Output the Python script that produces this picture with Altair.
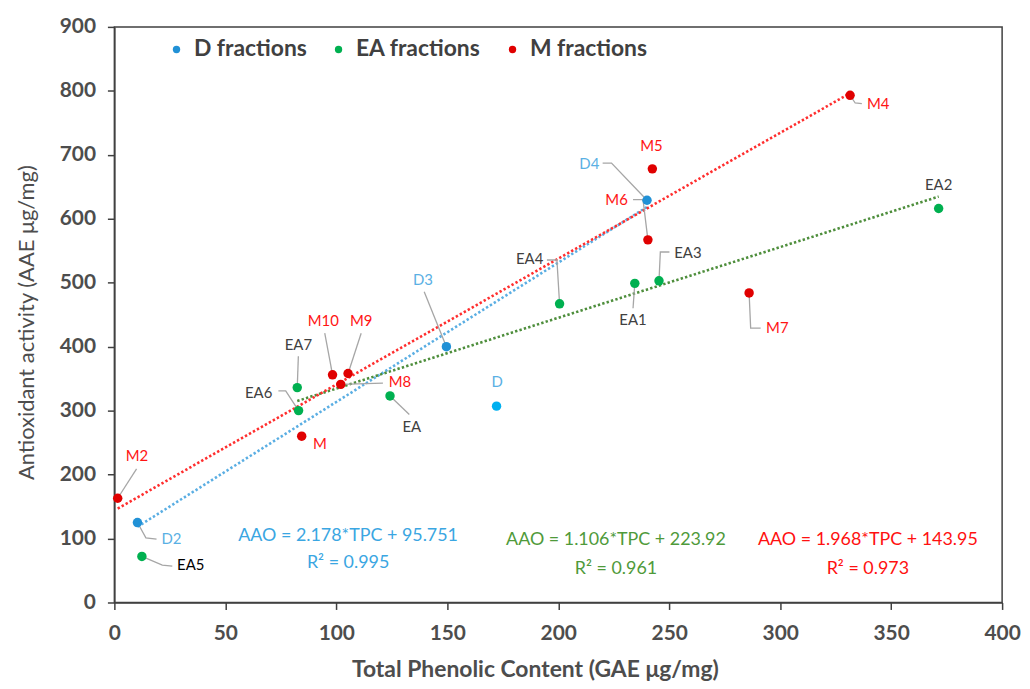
import altair as alt
import pandas as pd

# ---------------- data ----------------
d_names = ["D", "D2", "D3", "D4"]
d_tpc = [172.2, 10.4, 149.6, 240.0]
d_aao = [307, 125, 400, 629]

ea_names = ["EA", "EA1", "EA2", "EA3", "EA4", "EA5", "EA6", "EA7"]
ea_tpc = [124.2, 234.5, 371.4, 245.4, 200.6, 12.4, 83.0, 82.4]
ea_aao = [323, 499, 616, 503, 467, 72, 300, 336]

m_names = ["M", "M2", "M4", "M5", "M6", "M7", "M8", "M9", "M10"]
m_tpc = [84.4, 1.5, 331.5, 242.4, 240.4, 286.0, 102.0, 105.3, 98.3]
m_aao = [260, 163, 793, 678, 567, 484, 341, 358, 356]

series_names = ["D fractions", "EA fractions", "M fractions"]
crude_extracts = ["D"]  # crude D extract drawn in a lighter blue

# fitted trendlines (as printed on the chart)
trend_slope = [2.178, 1.106, 1.968]
trend_intercept = [95.751, 223.92, 143.95]
trend_from = ["D2", "EA7", "M2"]
trend_to = ["D4", "EA2", "M4"]
eq_line1 = ["AAO = 2.178*TPC + 95.751", "AAO = 1.106*TPC + 223.92", "AAO = 1.968*TPC + 143.95"]
eq_line2 = ["R\u00b2 = 0.995", "R\u00b2 = 0.961", "R\u00b2 = 0.973"]

# annotation placement (data units)
label_pos = {
    "D": (172.5, 344), "D2": (25.7, 100), "D3": (139.0, 504), "D4": (214, 685),
    "EA": (134, 274), "EA1": (233.7, 442), "EA2": (371.4, 652), "EA3": (258.4, 547),
    "EA4": (187.1, 537), "EA5": (34.4, 58), "EA6": (65, 327), "EA7": (82.9, 403),
    "M": (92.6, 248), "M2": (10.2, 229), "M4": (344.2, 780), "M5": (242, 713),
    "M6": (226.3, 630), "M7": (298.7, 429), "M8": (128.7, 344), "M9": (111.2, 440),
    "M10": (94.1, 440),
}
leader_anchors = {
    "M10": [(94.8, 421)], "M9": [(111.2, 421)], "EA7": [(82.9, 385)],
    "EA6": [(73.9, 331), (77.2, 331)], "M8": [(121, 343)], "EA": [(132.9, 294)],
    "D3": [(139.6, 486)], "M2": [(10, 209)], "D2": [(19, 99), (14.2, 101)],
    "EA5": [(26.1, 57), (21.6, 58.5)], "M4": [(336.8, 780), (333.8, 781)],
    "D4": [(220, 687), (224, 687)], "M6": [(233.7, 630), (238.2, 630)],
    "EA4": [(194.9, 535.5), (199.4, 535.5)], "EA1": [(233.7, 460)],
    "EA3": [(250.1, 548), (246, 548)], "M7": [(291.2, 429), (286.7, 429)],
}
eq_x = [105.3, 226, 339.5]
eq_y1 = [104, 98, 98]
eq_y2 = [61, 52, 52]

# ---------------- tables ----------------
rows = []
for s, names, xs, ys in zip(series_names, [d_names, ea_names, m_names],
                            [d_tpc, ea_tpc, m_tpc], [d_aao, ea_aao, m_aao]):
    for n, x, y in zip(names, xs, ys):
        grp = "D extract" if n in crude_extracts else s
        lx, ly = label_pos[n]
        rows.append(dict(name=n, tpc=x, aao=y, series=s, group=grp, lx=lx, ly=ly))
pts = pd.DataFrame(rows)
lookup = {r["name"]: (r["tpc"], r["aao"]) for r in rows}

trend_rows = []
for s, a, b, f, t in zip(series_names, trend_slope, trend_intercept, trend_from, trend_to):
    for n in (f, t):
        trend_rows.append(dict(series=s, slope=a, intercept=b, tpc=lookup[n][0]))
trend = pd.DataFrame(trend_rows)

lead_rows = []
for n, anchors in leader_anchors.items():
    seq = anchors + [lookup[n]]
    for i, (x, y) in enumerate(seq):
        lead_rows.append(dict(name=n, ord=i, tpc=x, aao=y))
lead = pd.DataFrame(lead_rows)

eq_rows = []
for s, l1, l2, x, y1, y2 in zip(series_names, eq_line1, eq_line2, eq_x, eq_y1, eq_y2):
    eq_rows.append(dict(series=s, txt=l1, tpc=x, aao=y1))
    eq_rows.append(dict(series=s, txt=l2, tpc=x, aao=y2))
eqs = pd.DataFrame(eq_rows)

# ---------------- styling ----------------
FONT = "Lato"
AX = "#404040"
pt_colors = ["#2191D6", "#00B050", "#E00000", "#00B0F0"]
line_colors = ["#5AAEE3", "#4E8E3C", "#FF2E2E"]
label_colors = {"D fractions": "#5AB0E4", "EA fractions": "#404040", "M fractions": "#FF1414"}
eq_colors = {"D fractions": "#3AA6E2", "EA fractions": "#4F9A3A", "M fractions": "#FF1010"}

xscale = alt.Scale(domain=[0, 400], nice=False, zero=False)
yscale = alt.Scale(domain=[0, 900], nice=False)

xaxis = alt.Axis(
    values=list(range(0, 401, 50)), title="Total Phenolic Content (GAE \u03bcg/mg)",
    grid=False, labelFont=FONT, labelFontSize=21, labelFontWeight="bold", labelColor="#4D4D4D",
    labelPadding=13, tickSize=7, tickColor=AX, domainColor=AX, domainWidth=1.5, tickWidth=1.5,
    titleFont=FONT, titleFontSize=23, titleFontWeight="bold", titleColor="#4D4D4D",
    titleX=423, titleY=67, titleAlign="center", titleBaseline="middle", labelFlush=False)
yaxis = alt.Axis(
    values=list(range(0, 901, 100)), title="Antioxidant activity (AAE \u03bcg/mg)",
    grid=False, labelFont=FONT, labelFontSize=21, labelFontWeight="bold", labelColor="#4D4D4D",
    labelPadding=12, tickSize=7, tickColor=AX, domainColor=AX, domainWidth=1.5, tickWidth=1.5,
    titleFont=FONT, titleFontSize=22, titleFontWeight="normal", titleColor="#4D4D4D",
    titleX=-88, titleY=297, titleAngle=-90, titleAlign="center", titleBaseline="middle",
    labelFlush=False)

xenc = alt.X("tpc:Q", scale=xscale, axis=xaxis)
yenc = alt.Y("aao:Q", scale=yscale, axis=yaxis)

trend_layer = alt.Chart(trend).transform_calculate(
    aao="datum.slope * datum.tpc + datum.intercept"
).mark_line(strokeWidth=2.6, strokeDash=[2.4, 2.2]).encode(
    x=xenc, y=yenc,
    stroke=alt.Stroke("series:N", scale=alt.Scale(domain=series_names, range=line_colors), legend=None),
)

lead_layer = alt.Chart(lead).mark_line(strokeWidth=1.3, color="#A6A6A6").encode(
    x=xenc, y=yenc, detail="name:N", order="ord:Q",
)

point_layer = alt.Chart(pts).mark_circle(size=90, opacity=1).encode(
    x=xenc, y=yenc,
    color=alt.Color("group:N", scale=alt.Scale(domain=series_names + ["D extract"], range=pt_colors),
                    legend=alt.Legend(values=series_names, orient="none", legendX=51, legendY=11,
                                      direction="horizontal", title=None, symbolType="circle",
                                      symbolSize=55, symbolOpacity=1, labelFont=FONT,
                                      labelFontSize=23, labelFontWeight="bold", labelColor=AX,
                                      labelOffset=6, columnPadding=20, symbolStrokeWidth=0)),
)

label_layers = []
for s in series_names:
    col = label_colors[s]
    label_layers.append(
        alt.Chart(pts).transform_filter(alt.datum.series == s).mark_text(
            font=FONT, fontSize=15, baseline="middle", align="center"
        ).encode(
            x=alt.X("lx:Q", scale=xscale, axis=xaxis),
            y=alt.Y("ly:Q", scale=yscale, axis=yaxis),
            text="name:N",
            color=alt.condition(alt.datum.name == "EA5", alt.value("#000000"), alt.value(col)),
        )
    )

eq_layers = []
for s in series_names:
    eq_layers.append(
        alt.Chart(eqs).transform_filter(alt.datum.series == s).mark_text(
            font=FONT, fontSize=18, baseline="middle", align="center", color=eq_colors[s]
        ).encode(x=xenc, y=yenc, text="txt:N")
    )

chart = alt.layer(trend_layer, lead_layer, point_layer, *label_layers, *eq_layers).resolve_scale(
    color="independent"
).properties(
    width=893, height=579,
    padding={"left": 107, "top": 17, "right": 20, "bottom": 82},
    autosize=alt.AutoSizeParams(type="none"),
).configure(background="white").configure_view(stroke=AX, strokeWidth=1.5)

chart.save("out.html", embed_options={"renderer": "svg", "actions": False})
